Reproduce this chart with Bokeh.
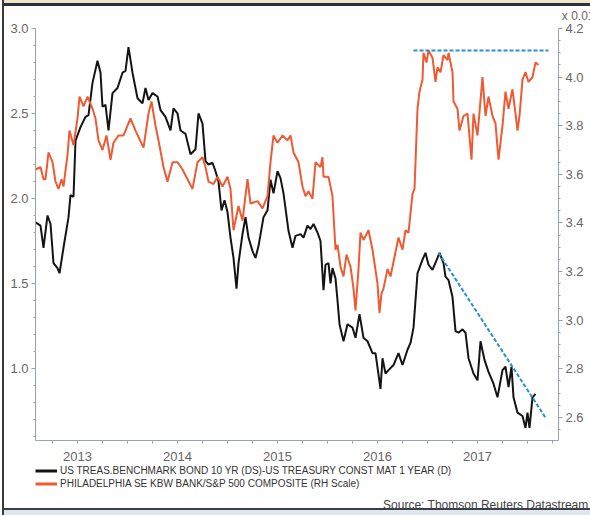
import numpy as np
from bokeh.plotting import figure
from bokeh.layouts import column
from bokeh.models import (Range1d, LinearAxis, SingleIntervalTicker, FixedTicker,
                          NumeralTickFormatter, Legend, LegendItem, Title)
from bokeh.embed import file_html
from bokeh.resources import INLINE

# ---------------- data ----------------
series_names = [
    "US TREAS.BENCHMARK BOND 10 YR (DS)-US TREASURY CONST MAT 1 YEAR (D)",
    "PHILADELPHIA SE KBW BANK/S&P 500 COMPOSITE (RH Scale)",
]
source_text = "Source: Thomson Reuters Datastream"
scale_note = "x 0.01"

spread_x = [
    2013.08, 2013.13, 2013.16, 2013.20, 2013.23, 2013.26, 2013.30, 2013.32, 2013.36, 2013.41,
    2013.43, 2013.46, 2013.48, 2013.53, 2013.58, 2013.61, 2013.65, 2013.70, 2013.73, 2013.75,
    2013.78, 2013.81, 2013.85, 2013.90, 2013.95, 2013.98, 2014.01, 2014.05, 2014.10, 2014.15,
    2014.18, 2014.21, 2014.25, 2014.30, 2014.33, 2014.38, 2014.43, 2014.46, 2014.50, 2014.53,
    2014.58, 2014.63, 2014.68, 2014.71, 2014.75, 2014.78, 2014.81, 2014.85, 2014.88, 2014.91,
    2014.94, 2014.97, 2015.00, 2015.03, 2015.06, 2015.09, 2015.11, 2015.15, 2015.18, 2015.21,
    2015.25, 2015.28, 2015.31, 2015.36, 2015.40, 2015.43, 2015.46, 2015.50, 2015.53, 2015.56,
    2015.61, 2015.65, 2015.68, 2015.73, 2015.76, 2015.80, 2015.83, 2015.86, 2015.90, 2015.93,
    2015.96, 2015.98, 2016.01, 2016.03, 2016.05, 2016.08, 2016.10, 2016.12, 2016.16, 2016.20,
    2016.25, 2016.28, 2016.32, 2016.36, 2016.40, 2016.45, 2016.48, 2016.53, 2016.55, 2016.58,
    2016.61, 2016.66, 2016.71, 2016.75, 2016.80, 2016.83, 2016.86, 2016.88, 2016.90, 2016.95,
    2016.98, 2017.01, 2017.05, 2017.10, 2017.12, 2017.16, 2017.18, 2017.21, 2017.25, 2017.28,
    2017.31, 2017.35, 2017.38, 2017.41, 2017.46, 2017.50, 2017.53, 2017.57, 2017.61, 2017.66,
    2017.70, 2017.75, 2017.78, 2017.81, 2017.84, 2017.86, 2017.90, 2017.95, 2017.98, 2018.00,
    2018.02, 2018.05, 2018.08,
]
spread_y = [
    1.86, 1.84, 1.71, 1.90, 1.85, 1.62, 1.59, 1.56, 1.71, 1.89,
    2.02, 2.01, 2.34, 2.42, 2.48, 2.49, 2.68, 2.81, 2.74, 2.54,
    2.55, 2.40, 2.62, 2.65, 2.74, 2.75, 2.89, 2.74, 2.59, 2.56,
    2.65, 2.58, 2.62, 2.60, 2.52, 2.48, 2.40, 2.53, 2.50, 2.40,
    2.38, 2.26, 2.29, 2.50, 2.44, 2.22, 2.20, 2.21, 2.16, 2.10,
    1.93, 1.99, 1.92, 1.77, 1.65, 1.47, 1.62, 1.79, 1.89, 1.77,
    1.69, 1.65, 1.72, 1.89, 1.93, 2.11, 2.03, 2.16, 2.12, 2.03,
    1.81, 1.71, 1.78, 1.79, 1.77, 1.84, 1.82, 1.85, 1.80, 1.75,
    1.46, 1.61, 1.62, 1.50, 1.59, 1.53, 1.40, 1.26, 1.16, 1.26,
    1.24, 1.18, 1.32, 1.18, 1.16, 1.09, 1.09, 0.88, 1.06, 0.97,
    0.99, 1.02, 1.09, 1.02, 1.11, 1.15, 1.24, 1.40, 1.56, 1.64,
    1.68, 1.61, 1.58, 1.65, 1.68, 1.62, 1.54, 1.52, 1.42, 1.22,
    1.21, 1.23, 1.21, 1.06, 0.97, 0.93, 1.16, 1.05, 0.98, 0.91,
    0.83, 0.99, 1.01, 0.89, 1.01, 0.83, 0.74, 0.72, 0.65, 0.74,
    0.65, 0.83, 0.85,
]

ratio_x = [
    2013.08, 2013.13, 2013.16, 2013.18, 2013.21, 2013.25, 2013.28, 2013.31, 2013.34, 2013.36,
    2013.40, 2013.42, 2013.46, 2013.50, 2013.52, 2013.56, 2013.60, 2013.65, 2013.68, 2013.71,
    2013.75, 2013.79, 2013.83, 2013.86, 2013.91, 2013.96, 2014.03, 2014.08, 2014.16, 2014.21,
    2014.24, 2014.28, 2014.31, 2014.36, 2014.40, 2014.45, 2014.50, 2014.55, 2014.60, 2014.65,
    2014.70, 2014.75, 2014.78, 2014.81, 2014.86, 2014.90, 2014.95, 2015.00, 2015.03, 2015.06,
    2015.11, 2015.15, 2015.20, 2015.23, 2015.30, 2015.35, 2015.40, 2015.43, 2015.46, 2015.50,
    2015.55, 2015.60, 2015.63, 2015.66, 2015.71, 2015.73, 2015.75, 2015.78, 2015.81, 2015.85,
    2015.88, 2015.93, 2015.95, 2015.96, 2016.01, 2016.05, 2016.08, 2016.10, 2016.13, 2016.16,
    2016.19, 2016.23, 2016.26, 2016.28, 2016.31, 2016.33, 2016.36, 2016.41, 2016.45, 2016.50,
    2016.52, 2016.54, 2016.56, 2016.60, 2016.63, 2016.68, 2016.71, 2016.75, 2016.78, 2016.81,
    2016.85, 2016.87, 2016.90, 2016.92, 2016.95, 2016.96, 2016.99, 2017.01, 2017.05, 2017.08,
    2017.10, 2017.13, 2017.16, 2017.20, 2017.21, 2017.25, 2017.26, 2017.30, 2017.32, 2017.36,
    2017.40, 2017.44, 2017.46, 2017.50, 2017.55, 2017.58, 2017.61, 2017.65, 2017.68, 2017.71,
    2017.75, 2017.78, 2017.81, 2017.85, 2017.88, 2017.90, 2017.92, 2017.95, 2017.98, 2018.01,
    2018.05, 2018.08, 2018.11,
]
ratio_y = [
    3.62, 3.63, 3.58, 3.58, 3.69, 3.65, 3.57, 3.54, 3.58, 3.55,
    3.68, 3.78, 3.72, 3.83, 3.92, 3.88, 3.92, 3.87, 3.83, 3.74,
    3.70, 3.76, 3.66, 3.73, 3.76, 3.76, 3.83, 3.78, 3.71, 3.85,
    3.90, 3.80, 3.74, 3.63, 3.57, 3.65, 3.65, 3.62, 3.58, 3.54,
    3.65, 3.67, 3.63, 3.57, 3.56, 3.59, 3.55, 3.59, 3.54, 3.37,
    3.47, 3.41, 3.58, 3.48, 3.49, 3.46, 3.51, 3.65, 3.76, 3.73,
    3.76, 3.74, 3.76, 3.69, 3.65, 3.60, 3.55, 3.51, 3.53, 3.50,
    3.65, 3.63, 3.67, 3.59, 3.59, 3.51, 3.29, 3.31, 3.22, 3.18,
    3.27, 3.22, 3.13, 3.04, 3.21, 3.36, 3.33, 3.37, 3.29, 3.15,
    3.03, 3.11, 3.13, 3.21, 3.18, 3.28, 3.34, 3.29, 3.37, 3.36,
    3.52, 3.54, 3.87, 3.94, 3.99, 4.10, 4.06, 4.11, 4.08, 3.98,
    4.04, 4.02, 4.09, 4.07, 4.10, 4.02, 3.90, 3.87, 3.78, 3.84,
    3.85, 3.66, 3.85, 3.76, 4.00, 3.84, 3.92, 3.84, 3.81, 3.66,
    3.80, 3.94, 3.87, 3.95, 3.85, 3.78, 3.84, 3.99, 4.02, 3.98,
    4.00, 4.06, 4.05,
]

# hand-drawn trend lines
top_trend_x = [2016.86, 2018.21]
top_trend_y = [4.11, 4.11]
down_trend_x = [2017.11, 2018.18]
down_trend_y = [1.68, 0.71]

year_labels = ["2013", "2014", "2015", "2016", "2017"]
year_label_pos = [2013.5, 2014.5, 2015.5, 2016.5, 2017.5]
quarter_ticks = list(np.arange(2013.25, 2018.30, 0.25))

# ---------------- styles ----------------
BLACK = "#141414"
RED = "#F05A32"
BLUE = "#2A8FD0"
AXIS_COL = "#9aa3ad"
LABEL_COL = "#666666"
FONT = "Liberation Sans"

# ---------------- main chart ----------------
p = figure(width=590, height=464, output_backend="svg", toolbar_location=None,
           x_range=Range1d(2013.08, 2018.31), y_range=Range1d(0.576, 3.0),
           min_border_left=35, min_border_right=32, min_border_top=28,
           min_border_bottom=24)
p.outline_line_color = None
p.xgrid.visible = False
p.ygrid.visible = False
p.background_fill_color = "white"
p.border_fill_alpha = 0

p.extra_y_ranges = {"right": Range1d(2.505, 4.2)}
raxis = LinearAxis(y_range_name="right")
p.add_layout(raxis, "right")

la = p.yaxis[0]
la.ticker = SingleIntervalTicker(interval=0.5, num_minor_ticks=5)
raxis.ticker = SingleIntervalTicker(interval=0.2, num_minor_ticks=4)
for ax in (la, raxis):
    ax.formatter = NumeralTickFormatter(format="0.0")
    ax.axis_line_color = AXIS_COL
    ax.major_tick_line_color = AXIS_COL
    ax.minor_tick_line_color = AXIS_COL
    ax.major_tick_out = 4
    ax.major_tick_in = 0
    ax.minor_tick_out = 2
    ax.minor_tick_in = 0
    ax.major_label_standoff = 3
    ax.major_label_text_font = FONT
    ax.major_label_text_font_size = "13px"
    ax.major_label_text_color = LABEL_COL

xa = p.xaxis[0]
xa.ticker = FixedTicker(ticks=year_label_pos, minor_ticks=quarter_ticks)
xa.major_label_overrides = {pos: lab for pos, lab in zip(year_label_pos, year_labels)}
xa.axis_line_color = AXIS_COL
xa.major_tick_line_color = None
xa.major_tick_out = 0
xa.major_tick_in = 0
xa.minor_tick_line_color = AXIS_COL
xa.minor_tick_out = 3
xa.minor_tick_in = 0
xa.major_label_standoff = 8
xa.major_label_text_font = FONT
xa.major_label_text_font_size = "13px"
xa.major_label_text_color = LABEL_COL

p.line(spread_x, spread_y, line_color=BLACK, line_width=2)
p.line(ratio_x, ratio_y, line_color=RED, line_width=2, y_range_name="right")
p.line(top_trend_x, top_trend_y, line_color=BLUE, line_width=2, line_dash="4 2",
       y_range_name="right")
p.line(down_trend_x, down_trend_y, line_color=BLUE, line_width=2, line_dash="4 2")

note = Title(text=scale_note, align="right", offset=-36, standoff=12,
             text_font=FONT, text_font_size="12px", text_color=LABEL_COL,
             text_font_style="normal")
p.add_layout(note, "above")

# ---------------- legend / source strip ----------------
q = figure(width=590, height=51, output_backend="svg", toolbar_location=None,
           x_range=Range1d(0, 1), y_range=Range1d(0, 1),
           x_axis_location=None, y_axis_location=None,
           min_border_left=35, min_border_right=32, min_border_top=0,
           min_border_bottom=20)
q.outline_line_color = None
q.xgrid.visible = False
q.ygrid.visible = False
q.background_fill_alpha = 0
q.border_fill_alpha = 0
# legend keys reuse the series styles (their points lie outside this strip's range)
k1 = q.line([5, 6], [5, 6], line_color=BLACK, line_width=3)
k2 = q.line([5, 6], [5, 6], line_color=RED, line_width=3)
legend = Legend(items=[LegendItem(label=series_names[0], renderers=[k1]),
                       LegendItem(label=series_names[1], renderers=[k2])],
                location="top_left", orientation="vertical",
                glyph_width=22, glyph_height=13, label_height=13, label_standoff=3,
                spacing=0, padding=0, margin=0,
                border_line_color=None, background_fill_alpha=0,
                label_text_font=FONT, label_text_font_size="10px",
                label_text_color="#333333")
q.add_layout(legend, "center")
src = Title(text=source_text, align="right", offset=-30, standoff=1,
            text_font=FONT, text_font_size="12px", text_color="#444444",
            text_font_style="normal")
q.add_layout(src, "below")

# thin frame lines of the scanned page (left, top and bottom edges)
frame_css = {
    "background-color": "white",
    "box-shadow": ("inset 2px 0 0 #ffffff, inset 4px 0 0 #3a3a3a, "
                   "inset 0 3px 0 #efe6c4, inset 0 6px 0 #2b3142, "
                   "inset 0 -5px 0 #dfe6ee, inset 0 -7px 0 #3a3f48"),
}
layout = column(p, q, spacing=0, styles=frame_css)
open("out.html", "w").write(file_html(layout, INLINE))
